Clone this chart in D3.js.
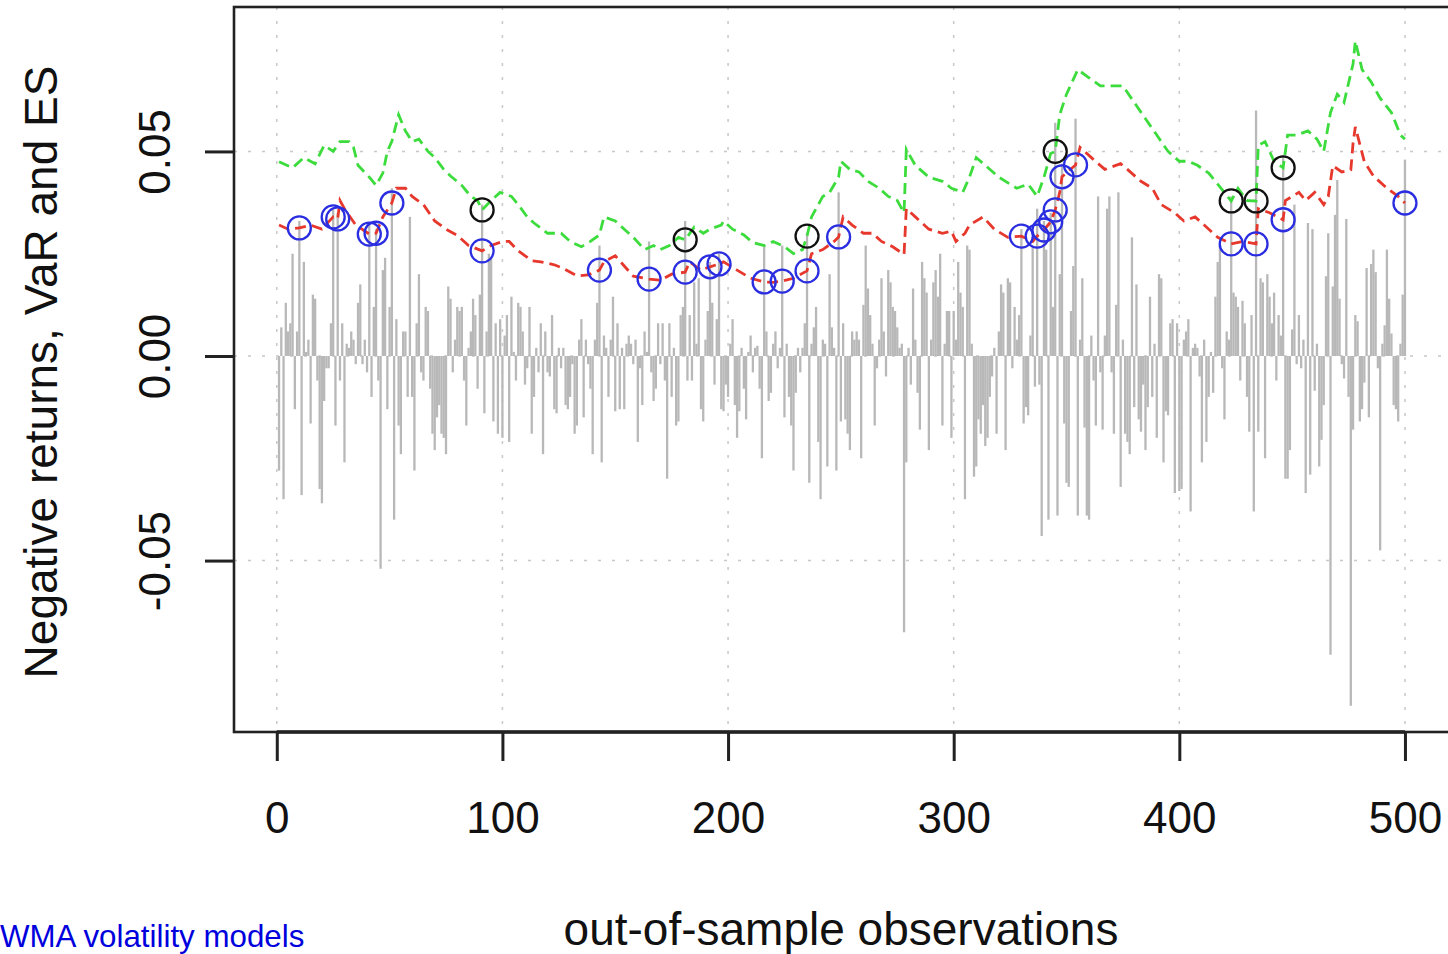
<!DOCTYPE html>
<html>
<head>
<meta charset="utf-8">
<script src="https://cdn.jsdelivr.net/npm/d3@7"></script>
<style>
  body { margin: 0; background: #fff; }
  svg { display: block; font-family: "Liberation Sans", Arial, Helvetica, sans-serif; }
</style>
</head>
<body>
<svg width="1448" height="954"></svg>
<script>
// negative returns, one value per observation (1..500)
var returns = [
  -0.028, 0.007, -0.035, 0.013, 0.006, 0.008, 0.025, -0.013, 0.006, 0.033,
  -0.034, 0.023, 0.001, 0.004, -0.0165, 0.015, 0.014, -0.006, -0.0325, -0.036,
  -0.011, -0.003, -0.003, 0.008, 0.036, -0.017, 0.035, -0.006, 0.008, -0.026,
  0.003, 0.002, 0.006, 0.004, -0.002, 0.013, 0.0175, -0.002, 0.004, -0.004,
  0.032, -0.01, 0.012, 0.031, -0.006, -0.052, 0.021, 0.024, -0.013, 0.012,
  0.041, -0.040, 0.009, -0.017, -0.024, 0.006, 0.006, -0.010, 0.034, -0.010,
  -0.028, 0.008, 0.020, -0.004, -0.006, 0.012, 0.011, -0.008, -0.019, -0.023,
  -0.015, -0.012, -0.019, -0.020, -0.024, 0.017, 0.014, -0.004, 0.004, 0.012,
  0.011, 0.012, -0.006, -0.017, 0.002, 0.006, 0.014, 0.010, -0.008, 0.015,
  0.037, -0.014, 0.006, 0.025, 0.024, -0.016, 0.008, -0.019, 0.009, -0.020,
  0.005, 0.010, -0.021, 0.0145, 0.001, -0.006, 0.013, 0.012, 0.006, -0.007,
  -0.003, 0.012, -0.019, -0.010, 0.002, -0.004, 0.008, -0.024, 0.006, -0.004,
  -0.005, 0.010, -0.013, -0.014, 0.002, -0.003, 0.002, -0.012, -0.013, -0.010,
  -0.002, -0.019, -0.017, 0.004, 0.009, -0.015, 0.004, -0.002, -0.008, -0.024,
  0.004, 0.013, 0.027, -0.026, 0.005, 0.002, -0.010, 0.004, 0.0145, -0.0135,
  0.008, -0.013, 0.002, -0.013, 0.003, 0.005, 0.003, -0.002, 0.004, -0.021,
  -0.003, -0.012, 0.006, 0.001, 0.028, -0.004, -0.011, -0.008, 0.008, -0.002,
  0.008, -0.006, -0.030, 0.008, -0.010, 0.002, -0.017, -0.016, 0.010, 0.012,
  0.033, -0.006, 0.010, -0.006, 0.018, 0.003, 0.019, -0.013, -0.016, 0.004,
  0.011, 0.023, 0.013, -0.007, 0.009, 0.025, -0.013, -0.0135, -0.007, -0.010,
  0.003, 0.009, -0.012, -0.020, -0.0135, 0.002, -0.008, -0.0155, 0.001, 0.005,
  -0.004, 0.002, 0.0025, -0.008, -0.025, 0.027, 0.006, -0.011, -0.009, 0.003,
  0.006, -0.003, 0.002, 0.027, -0.015, 0.003, -0.010, -0.017, -0.028, -0.009,
  0.002, -0.004, 0.002, 0.008, 0.030, -0.031, 0.003, 0.007, 0.012, -0.021,
  -0.035, 0.004, 0.003, -0.027, 0.020, 0.007, 0.002, -0.028, 0.040, -0.016,
  0.008, -0.0155, -0.019, -0.023, 0.006, 0.004, 0.006, 0.004, -0.025, 0.0125,
  0.027, 0.0165, 0.010, 0.003, -0.017, -0.003, 0.004, 0.019, 0.006, -0.005,
  0.021, 0.018, 0.012, 0.011, 0.007, 0.002, 0.003, -0.0675, -0.026, 0.002,
  -0.007, 0.0165, 0.004, -0.009, -0.018, 0.023, 0.019, 0.0155, -0.023, 0.004,
  0.018, 0.021, 0.0145, 0.025, -0.017, 0.003, 0.011, 0.011, -0.020, 0.011,
  0.004, 0.023, 0.0155, 0.012, -0.035, 0.027, 0.026, 0.003, -0.0295, -0.027,
  -0.0155, -0.019, -0.012, -0.022, -0.020, -0.010, -0.005, 0.002, -0.019, 0.006,
  0.0175, 0.0155, -0.023, 0.019, 0.018, -0.003, 0.012, 0.004, 0.010, 0.031,
  -0.0165, -0.0125, -0.0145, 0.005, 0.027, -0.0075, 0.036, -0.007, -0.044, 0.033,
  0.026, -0.040, 0.035, 0.012, 0.057, -0.039, 0.020, 0.047, -0.0165, -0.031,
  -0.032, 0.011, 0.022, 0.058, -0.039, 0.004, 0.019, -0.0175, -0.039, -0.040,
  0.005, -0.006, -0.017, 0.039, -0.004, -0.018, 0.005, 0.036, 0.039, -0.004,
  -0.019, 0.0125, 0.040, -0.032, 0.004, -0.019, -0.021, -0.024, 0.029, -0.0125,
  0.0175, -0.0155, -0.0185, -0.007, -0.023, -0.0125, 0.0145, -0.010, 0.003, -0.020,
  0.020, 0.019, -0.026, -0.0135, -0.0145, 0.008, 0.009, -0.0335, 0.008, -0.033,
  -0.0325, 0.004, 0.006, 0.009, -0.038, 0.002, 0.003, 0.002, -0.005, -0.026,
  0.004, -0.021, -0.010, 0.001, -0.009, 0.0145, 0.023, 0.027, -0.003, -0.0155,
  0.006, 0.004, 0.039, 0.0155, 0.0145, 0.012, -0.006, 0.0135, 0.008, -0.010,
  -0.0185, 0.010, -0.038, 0.060, -0.0185, 0.019, 0.018, -0.025, 0.020, 0.0145,
  0.008, 0.0155, -0.006, 0.010, 0.005, 0.049, -0.030, -0.030, -0.023, 0.0065,
  0.037, -0.002, 0.010, -0.003, 0.004, -0.0335, 0.0325, -0.029, 0.031, -0.0085,
  0.003, -0.027, -0.0205, -0.012, 0.0195, 0.030, -0.073, 0.017, 0.0345, 0.043,
  0.014, -0.002, -0.0055, 0.0335, -0.010, -0.0855, -0.018, 0.010, 0.0085, -0.016,
  -0.013, -0.0065, 0.0215, -0.015, 0.0225, 0.026, 0.0205, -0.003, -0.0475, 0.003,
  0.0075, 0.026, 0.014, 0.0055, -0.012, -0.013, -0.016, 0.003, 0.015, 0.048
];

// VaR (red) read at these observations
var varObs = [1, 5, 10, 15, 20, 25, 27, 28, 30, 35, 41, 44, 47, 51, 53, 57, 60, 65, 70, 75,
  80, 85, 91, 95, 100, 103, 107, 113, 117, 123, 127, 133, 138, 143, 145, 150, 154, 158, 165, 170,
  175, 181, 183, 188, 192, 196, 198, 204, 210, 216, 220, 224, 229, 235, 237, 242, 247, 249, 251, 255,
  260, 264, 268, 273, 278, 279, 283, 289, 295, 299, 301, 305, 307, 313, 318, 324, 330, 335, 337, 340,
  343, 345, 347, 348, 354, 356, 362, 367, 374, 377, 383, 388, 392, 398, 402, 407, 411, 417, 423, 428,
  434, 435, 440, 446, 447, 453, 456, 460, 464, 466, 468, 472, 476, 477, 478, 482, 486, 492, 497, 500];
var varVal = [0.032, 0.031, 0.0313, 0.032, 0.031, 0.034, 0.0335, 0.038, 0.036, 0.032, 0.0298, 0.030, 0.034, 0.0374, 0.041, 0.041, 0.039, 0.037, 0.033, 0.031,
  0.0295, 0.027, 0.0257, 0.027, 0.028, 0.028, 0.0257, 0.0233, 0.023, 0.0223, 0.0214, 0.0196, 0.0198, 0.021, 0.023, 0.0245, 0.022, 0.0195, 0.0188, 0.0185,
  0.020, 0.0205, 0.023, 0.021, 0.0218, 0.0225, 0.023, 0.021, 0.019, 0.0181, 0.018, 0.0183, 0.019, 0.0208, 0.025, 0.026, 0.028, 0.0291, 0.034, 0.032,
  0.030, 0.030, 0.028, 0.0267, 0.0248, 0.036, 0.034, 0.031, 0.030, 0.0305, 0.028, 0.030, 0.032, 0.034, 0.031, 0.029, 0.0293, 0.028, 0.0293, 0.0308,
  0.0328, 0.0357, 0.040, 0.0438, 0.0467, 0.051, 0.048, 0.0456, 0.047, 0.0456, 0.0427, 0.041, 0.037, 0.035, 0.033, 0.034, 0.032, 0.029, 0.0274, 0.028,
  0.0274, 0.036, 0.035, 0.0333, 0.038, 0.040, 0.038, 0.040, 0.037, 0.039, 0.0465, 0.045, 0.0455, 0.052, 0.056, 0.0475, 0.044, 0.041, 0.039, 0.0374];

// ES (green) read at these observations
var esObs = [1, 7, 12, 17, 21, 25, 28, 32, 34, 36, 41, 44, 47, 49, 51, 54, 57, 60, 63, 67,
  70, 74, 77, 82, 86, 89, 91, 95, 99, 104, 107, 111, 114, 120, 126, 130, 135, 139, 143, 145,
  150, 154, 158, 163, 167, 170, 174, 178, 181, 185, 189, 192, 197, 198, 202, 207, 211, 216, 220, 225,
  229, 233, 235, 237, 239, 242, 245, 249, 250, 254, 258, 262, 267, 271, 275, 278, 279, 283, 289, 295,
  299, 304, 307, 310, 314, 320, 325, 328, 333, 337, 340, 343, 345, 347, 350, 355, 360, 365, 370, 375,
  380, 385, 390, 395, 400, 404, 408, 413, 417, 423, 426, 430, 434, 435, 438, 442, 446, 448, 452, 457,
  461, 464, 467, 470, 473, 477, 478, 481, 485, 489, 494, 498, 500];
var esVal = [0.0475, 0.046, 0.0485, 0.047, 0.0515, 0.050, 0.0524, 0.0524, 0.051, 0.0466, 0.0437, 0.0417, 0.0447, 0.050, 0.0525, 0.059, 0.055, 0.0524, 0.053, 0.050,
  0.0485, 0.0456, 0.044, 0.0417, 0.039, 0.038, 0.0357, 0.038, 0.040, 0.039, 0.037, 0.034, 0.0325, 0.030, 0.030, 0.028, 0.0267, 0.028, 0.0296, 0.034,
  0.033, 0.031, 0.029, 0.026, 0.027, 0.026, 0.027, 0.029, 0.0284, 0.0315, 0.030, 0.031, 0.032, 0.033, 0.031, 0.0296, 0.0277, 0.027, 0.028, 0.0267,
  0.025, 0.026, 0.0293, 0.034, 0.036, 0.039, 0.040, 0.0437, 0.0476, 0.0456, 0.045, 0.0427, 0.041, 0.039, 0.038, 0.035, 0.0505, 0.0466, 0.0437, 0.0427,
  0.041, 0.040, 0.0437, 0.0485, 0.0466, 0.0437, 0.042, 0.041, 0.042, 0.039, 0.0437, 0.0495, 0.050, 0.059, 0.064, 0.070, 0.068, 0.066, 0.066, 0.066,
  0.062, 0.058, 0.054, 0.050, 0.0476, 0.0476, 0.0466, 0.0447, 0.042, 0.0379, 0.041, 0.038, 0.0379, 0.0515, 0.0524, 0.0476, 0.046, 0.054, 0.054, 0.055,
  0.053, 0.050, 0.0595, 0.064, 0.062, 0.0714, 0.077, 0.070, 0.067, 0.063, 0.0595, 0.054, 0.053];

// exceedances
var varHits = [10, 25, 27, 41, 44, 51, 91, 143, 165, 181, 192, 196, 216, 224, 235, 249,
  330, 337, 340, 343, 345, 348, 354, 423, 434, 446, 500];
var esHits = [91, 181, 235, 345, 423, 434, 446];

var xTicks = [0, 100, 200, 300, 400, 500];
var yTicks = [-0.05, 0, 0.05];
var yTickLabels = ["-0.05", "0.00", "0.05"];

var svg = d3.select("svg");

var x = d3.scaleLinear().domain([-18.96, 519.96]).range([234, 1450]);
var y = d3.scaleLinear().domain([-0.0919, 0.0853]).range([732, 7]);

// grid
var grid = svg.append("g")
  .attr("stroke", "#c8c8c8")
  .attr("stroke-width", 1.5)
  .attr("stroke-dasharray", "3,11");
grid.selectAll(".gx").data(xTicks).enter().append("line")
  .attr("x1", d => x(d)).attr("x2", d => x(d))
  .attr("y1", 7).attr("y2", 732);
grid.selectAll(".gy").data(yTicks).enter().append("line")
  .attr("x1", 234).attr("x2", 1450)
  .attr("y1", d => y(d)).attr("y2", d => y(d));

// returns as vertical lines from zero
svg.append("g").selectAll("line")
  .data(returns)
  .enter().append("line")
  .attr("x1", (d, i) => x(i + 1))
  .attr("x2", (d, i) => x(i + 1))
  .attr("y1", y(0))
  .attr("y2", d => y(d))
  .attr("stroke", "#b8b8b8")
  .attr("stroke-width", 2.3);

var line = d3.line().x(d => x(d[0])).y(d => y(d[1]));

svg.append("path")
  .datum(esObs.map((o, i) => [o, esVal[i]]))
  .attr("d", line)
  .attr("fill", "none")
  .attr("stroke", "#3ddc3d")
  .attr("stroke-width", 2.8)
  .attr("stroke-dasharray", "11,6");

svg.append("path")
  .datum(varObs.map((o, i) => [o, varVal[i]]))
  .attr("d", line)
  .attr("fill", "none")
  .attr("stroke", "#e6382c")
  .attr("stroke-width", 2.8)
  .attr("stroke-dasharray", "11,6");

function levelAt(obs, vals, o) {
  return vals[obs.indexOf(o)];
}

svg.append("g").selectAll("circle")
  .data(varHits)
  .enter().append("circle")
  .attr("cx", d => x(d))
  .attr("cy", d => y(levelAt(varObs, varVal, d)))
  .attr("r", 11.5)
  .attr("fill", "none")
  .attr("stroke", "#2a2ee0")
  .attr("stroke-width", 2.3);

svg.append("g").selectAll("circle")
  .data(esHits)
  .enter().append("circle")
  .attr("cx", d => x(d))
  .attr("cy", d => y(levelAt(esObs, esVal, d)))
  .attr("r", 11.5)
  .attr("fill", "none")
  .attr("stroke", "#111")
  .attr("stroke-width", 2.3);

// box
svg.append("rect")
  .attr("x", 234).attr("y", 7)
  .attr("width", 1216).attr("height", 725)
  .attr("fill", "none")
  .attr("stroke", "#222")
  .attr("stroke-width", 2.6);

// x axis
var xAxis = svg.append("g")
  .attr("transform", "translate(0,732)")
  .call(d3.axisBottom(x).tickValues(xTicks).tickSize(29).tickPadding(41).tickFormat(d3.format("d")));
xAxis.select(".domain").remove();
xAxis.append("line")
  .attr("x1", x(0)).attr("x2", x(500))
  .attr("stroke", "#222").attr("stroke-width", 3.5);
xAxis.selectAll(".tick line").attr("stroke", "#222").attr("stroke-width", 3);
xAxis.selectAll(".tick text")
  .attr("fill", "#111")
  .style("font-size", "44px")
  .style("font-family", "Liberation Sans, Arial, sans-serif");

// y axis
var yAxis = svg.append("g")
  .attr("transform", "translate(234,0)")
  .call(d3.axisLeft(y).tickValues(yTicks).tickSize(29).tickFormat((d, i) => yTickLabels[i]));
yAxis.select(".domain").remove();
yAxis.selectAll(".tick line").attr("stroke", "#222").attr("stroke-width", 3);
yAxis.selectAll(".tick text")
  .attr("x", null).attr("dy", null)
  .attr("transform", "translate(-64,0) rotate(-90)")
  .attr("text-anchor", "middle")
  .attr("fill", "#111")
  .style("font-size", "44px")
  .style("font-family", "Liberation Sans, Arial, sans-serif");

// titles
svg.append("text")
  .attr("x", 841).attr("y", 945)
  .attr("text-anchor", "middle")
  .attr("fill", "#111")
  .style("font-size", "46px")
  .text("out-of-sample observations");

svg.append("text")
  .attr("transform", "translate(57,372) rotate(-90)")
  .attr("text-anchor", "middle")
  .attr("fill", "#111")
  .style("font-size", "46px")
  .text("Negative returns, VaR and ES");

// caption as it shows at the left edge of the picture
svg.append("text")
  .attr("x", 0).attr("y", 947)
  .attr("fill", "#0000dd")
  .style("font-size", "31.3px")
  .text("WMA volatility models");
</script>
</body>
</html>
